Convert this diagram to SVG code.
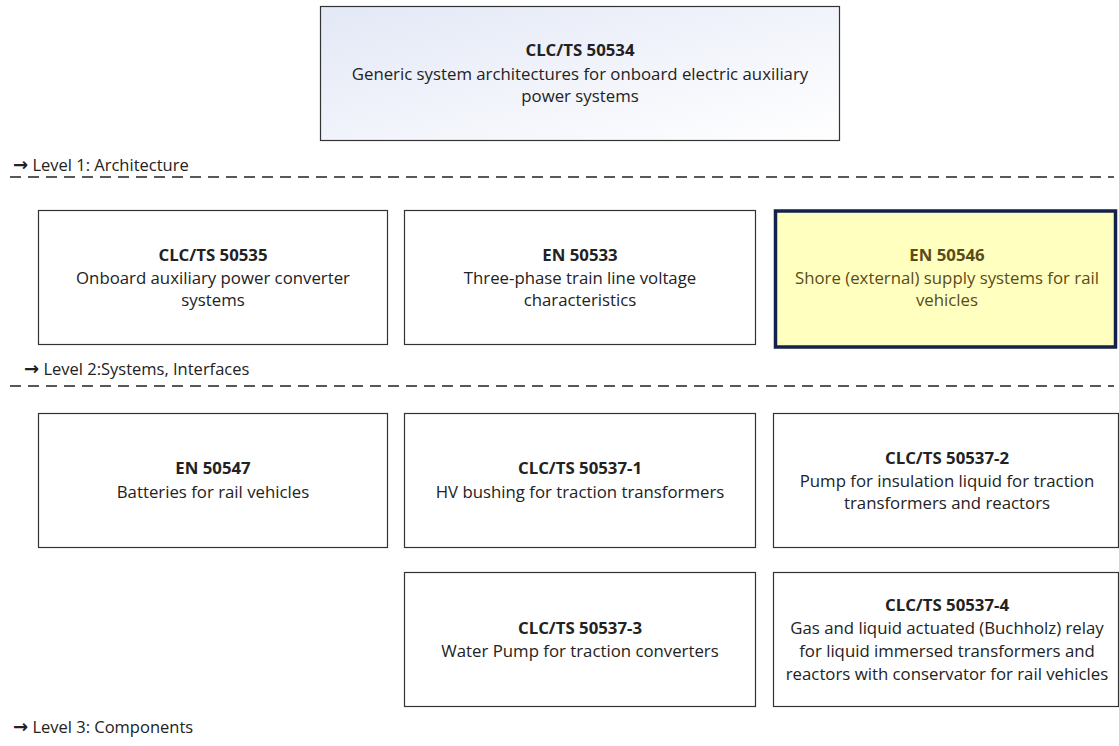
<svg xmlns="http://www.w3.org/2000/svg" width="1119" height="746" viewBox="0 0 1119 746">
<style>
.box{fill:#fff;stroke:#333;stroke-width:1.2}
.t{font-family:"Open Sans","Liberation Sans",Arial,sans-serif;font-size:16.8px;fill:#222;text-anchor:middle}
.b{font-weight:bold}
.lvl{font-family:"Open Sans","Liberation Sans",Arial,sans-serif;font-size:16.5px;fill:#222}
.ar{font-family:"DejaVu Sans",sans-serif;font-size:18px;font-weight:bold}
.dash{stroke:#222;stroke-width:1.3;stroke-dasharray:11,7;fill:none}
.hl{fill:#ffffc0;stroke:#14214a;stroke-width:3.5}
.ht{fill:#5b4b16}
</style>
<defs>
<linearGradient id="g" x1="0" y1="0" x2="1" y2="1">
<stop offset="0" stop-color="#e3e8f6"/>
<stop offset="1" stop-color="#ffffff"/>
</linearGradient>
</defs>
<g id="levels">
<text class="lvl" x="13" y="171"><tspan class="ar">→</tspan> Level 1: Architecture</text>
<text class="lvl" x="24" y="375"><tspan class="ar">→</tspan> Level 2:Systems, Interfaces</text>
<text class="lvl" x="13" y="733"><tspan class="ar">→</tspan> Level 3: Components</text>
<line class="dash" x1="10" y1="177" x2="1114" y2="177"/>
<line class="dash" x1="10" y1="386" x2="1114" y2="386"/>
</g>
<g id="connectors"></g>
<g id="n50534">
<rect x="320.5" y="6.5" width="519" height="134" fill="url(#g)" stroke="#333" stroke-width="1.2"/>
<text class="t b" x="580" y="56">CLC/TS 50534</text>
<text class="t" x="580" y="80">Generic system architectures for onboard electric auxiliary</text>
<text class="t" x="580" y="102">power systems</text>
</g>
<g id="n50535">
<rect class="box" x="38.5" y="210.5" width="349" height="134"/>
<text class="t b" x="213" y="261">CLC/TS 50535</text>
<text class="t" x="213" y="284">Onboard auxiliary power converter</text>
<text class="t" x="213" y="306">systems</text>
</g>
<g id="n50533">
<rect class="box" x="404.5" y="210.5" width="351" height="134"/>
<text class="t b" x="580" y="261">EN 50533</text>
<text class="t" x="580" y="284">Three-phase train line voltage</text>
<text class="t" x="580" y="306">characteristics</text>
</g>
<g id="n50546">
<rect class="hl" x="775.5" y="211" width="340" height="136"/>
<text class="t b ht" x="947" y="261">EN 50546</text>
<text class="t ht" x="947" y="284">Shore (external) supply systems for rail</text>
<text class="t ht" x="947" y="306">vehicles</text>
</g>
<g id="n50547">
<rect class="box" x="38.5" y="413.5" width="349" height="134"/>
<text class="t b" x="213" y="474">EN 50547</text>
<text class="t" x="213" y="498">Batteries for rail vehicles</text>
</g>
<g id="n50537-1">
<rect class="box" x="404.5" y="413.5" width="351" height="134"/>
<text class="t b" x="580" y="474">CLC/TS 50537-1</text>
<text class="t" x="580" y="498">HV bushing for traction transformers</text>
</g>
<g id="n50537-2">
<rect class="box" x="773.5" y="413.5" width="345" height="134"/>
<text class="t b" x="947" y="464">CLC/TS 50537-2</text>
<text class="t" x="947" y="487">Pump for insulation liquid for traction</text>
<text class="t" x="947" y="509">transformers and reactors</text>
</g>
<g id="n50537-3">
<rect class="box" x="404.5" y="572.5" width="351" height="134"/>
<text class="t b" x="580" y="634">CLC/TS 50537-3</text>
<text class="t" x="580" y="657">Water Pump for traction converters</text>
</g>
<g id="n50537-4">
<rect class="box" x="773.5" y="572.5" width="345" height="134"/>
<text class="t b" x="947" y="611">CLC/TS 50537-4</text>
<text class="t" x="947" y="634">Gas and liquid actuated (Buchholz) relay</text>
<text class="t" x="947" y="657">for liquid immersed transformers and</text>
<text class="t" x="947" y="680">reactors with conservator for rail vehicles</text>
</g>
</svg>
